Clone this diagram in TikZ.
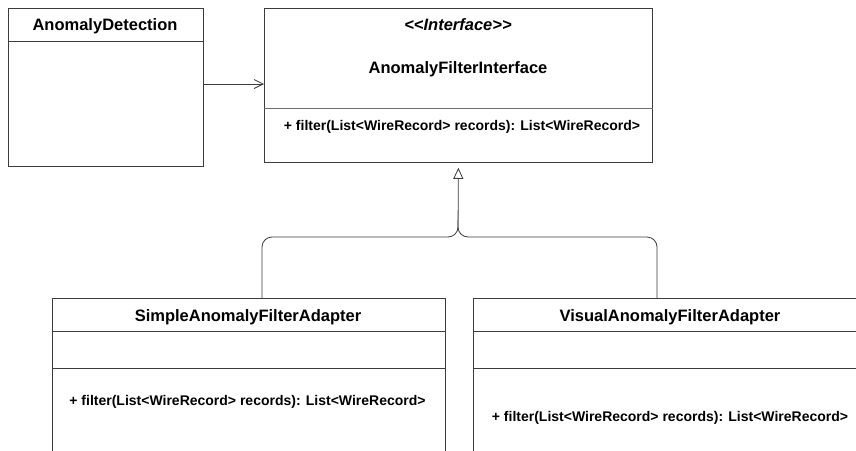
\documentclass[tikz,border=0pt]{standalone}
\usepackage{fontspec}
\setmainfont{Liberation Sans}
\usetikzlibrary{arrows.meta,positioning}
\definecolor{umlline}{RGB}{60,60,60}
\definecolor{umlsep}{RGB}{110,110,110}

\begin{document}
\begin{tikzpicture}[x=1pt,y=-1pt,line width=.8pt,
    umlbox/.style={draw=umlline,anchor=north west,inner sep=0pt},
    title/.style={font=\bfseries\fontsize{16.5}{18}\selectfont},
    member/.style={font=\bfseries\fontsize{14}{16}\selectfont}]
        \useasboundingbox (0,0) rectangle (856,450);
        % classes
        \node[umlbox,minimum width=195pt,minimum height=158pt] (det) at (8,8) {};
        \node[umlbox,minimum width=388pt,minimum height=154pt] (iface) at (264,8) {};
        \node[umlbox,minimum width=393pt,minimum height=200pt] (simple) at (52,298) {};
        \node[umlbox,minimum width=400pt,minimum height=200pt] (visual) at (473,298) {};
        % compartments
        \draw[umlline] (det.west |- 0,41) -- (det.east |- 0,41);
        \draw[umlsep] (iface.west |- 0,108) -- (iface.east |- 0,108);
        \draw[umlline] (simple.west |- 0,331) -- (simple.east |- 0,331);
        \draw[umlline] (simple.west |- 0,368) -- (simple.east |- 0,368);
        \draw[umlline] (visual.west |- 0,331) -- (visual.east |- 0,331);
        \draw[umlline] (visual.west |- 0,368) -- (visual.east |- 0,368);
        % texts
        \node[title] (detname) at (105,26) {AnomalyDetection};
        \node[font=\bfseries\itshape\fontsize{16.5}{18}\selectfont] (stereo) at (458,25) {<{}<Interface>{}>};
        \node[title] (ifacename) at (458,69) {AnomalyFilterInterface};
        \node[member] (ifaceop) at (462,127) {+ filter(List<WireRecord> records): List<WireRecord>};
        \node[title] (simplename) at (248,317) {SimpleAnomalyFilterAdapter};
        \node[member] (simpleop) at (247.5,402) {+ filter(List<WireRecord> records): List<WireRecord>};
        \node[title] (visualname) at (670,317) {VisualAnomalyFilterAdapter};
        \node[member] (visualop) at (670,418) {+ filter(List<WireRecord> records): List<WireRecord>};
        % relations
        \draw[umlline,-{Straight Barb[length=9pt,width=9pt]}] (det.east |- 0,84) -- (iface.west |- 0,84);
        \draw[umlline,rounded corners=10pt,-{Triangle[open,length=11pt,width=10pt]},shorten >=5pt]
          (simple.north -| 262,0) |- (458,237) -- (iface.south);
        \draw[umlline,rounded corners=10pt] (visual.north -| 657,0) |- (458,237) -- (458,220);
\end{tikzpicture}
\end{document}
